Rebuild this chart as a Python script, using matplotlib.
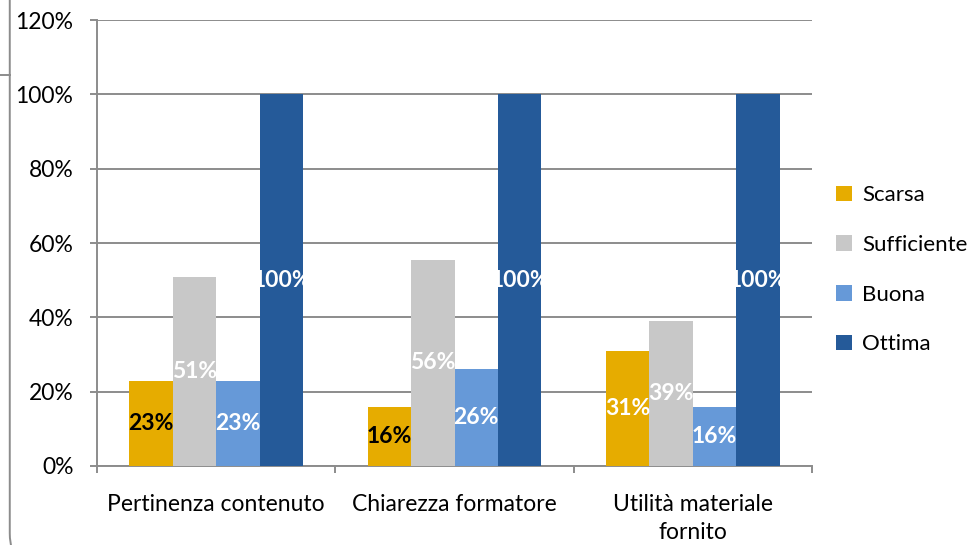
import numpy as np
import matplotlib
matplotlib.use('Agg')
import matplotlib.pyplot as plt
from matplotlib.patches import FancyBboxPatch, Patch
from matplotlib.lines import Line2D

# dati
categories = ['Pertinenza contenuto', 'Chiarezza formatore', 'Utilità materiale\nfornito']
series = ['Scarsa', 'Sufficiente', 'Buona', 'Ottima']
scarsa = [0.23, 0.16, 0.31]
sufficiente = [0.51, 0.555, 0.39]
buona = [0.23, 0.26, 0.16]
ottima = [1.00, 1.00, 1.00]
labels_scarsa = ['23%', '16%', '31%']
labels_sufficiente = ['51%', '56%', '39%']
labels_buona = ['23%', '26%', '16%']
labels_ottima = ['100%', '100%', '100%']
label_colors_scarsa = ['black', 'black', 'white']

COLORS = ['#E6AC00', '#C8C8C8', '#6699D8', '#255A99']
GRID = '#8C8C8C'

plt.rcParams['font.family'] = ['Lato', 'DejaVu Sans']

fig = plt.figure(figsize=(9.77, 5.45), dpi=100, facecolor='white')
ax = fig.add_axes([0.0993, 0.145, 0.7318, 0.818])

values = [scarsa, sufficiente, buona, ottima]
labels = [labels_scarsa, labels_sufficiente, labels_buona, labels_ottima]
lcolors = [label_colors_scarsa, ['white'] * 3, ['white'] * 3, ['white'] * 3]

x = np.arange(len(categories))
w = 0.1825
for i, (vals, col) in enumerate(zip(values, COLORS)):
    pos = x + (i - 1.5) * w
    ax.bar(pos, vals, width=w, color=col, zorder=3)
    for p, v, t, c in zip(pos, vals, labels[i], lcolors[i]):
        ax.text(p, v / 2, t, ha='center', va='center', color=c,
                fontsize=16.5, fontweight='bold', zorder=4)

ax.set_ylim(0, 1.2)
ax.set_xlim(-0.5, len(categories) - 0.5)
ax.set_yticks(np.arange(0, 1.21, 0.2))
ax.set_yticklabels([f'{int(round(v * 100))}%' for v in np.arange(0, 1.21, 0.2)])
ax.yaxis.grid(True, color=GRID, linewidth=1.4, zorder=0)
ax.set_xticks(x)
ax.set_xticklabels(categories, fontsize=16.5, linespacing=1.38)
ax.set_xticks(np.arange(-0.5, len(categories)), minor=True)
ax.tick_params(axis='x', which='major', length=0, pad=20.5)
ax.tick_params(axis='x', which='minor', length=5, color=GRID, width=1.4, direction='out')
ax.tick_params(axis='y', length=5, color=GRID, width=1.4, labelsize=16.5, pad=12)

for s in ['top', 'right']:
    ax.spines[s].set_visible(False)
for s in ['left', 'bottom']:
    ax.spines[s].set_color(GRID)
    ax.spines[s].set_linewidth(1.4)

handles = [Patch(facecolor=c, edgecolor='none') for c in COLORS]
fig.legend(handles, series, loc='center left', bbox_to_anchor=(0.856, 0.505),
           frameon=False, fontsize=16, handlelength=0.7, handleheight=0.7,
           handletextpad=0.45, labelspacing=1.33, borderaxespad=0, borderpad=0)

# cornice arrotondata parzialmente visibile
frame = FancyBboxPatch((0.010, -0.05), 1.2, 1.2, transform=fig.transFigure,
                       boxstyle='round,pad=0,rounding_size=0.04',
                       facecolor='none', edgecolor='#8C8C8C', linewidth=1.4,
                       mutation_aspect=1.79, clip_on=False)
fig.patches.append(frame)
fig.add_artist(Line2D([0, 0.010], [0.862, 0.862], transform=fig.transFigure,
                      color='#8C8C8C', linewidth=1.4))

fig.savefig('out.png', dpi=100, facecolor='white')
